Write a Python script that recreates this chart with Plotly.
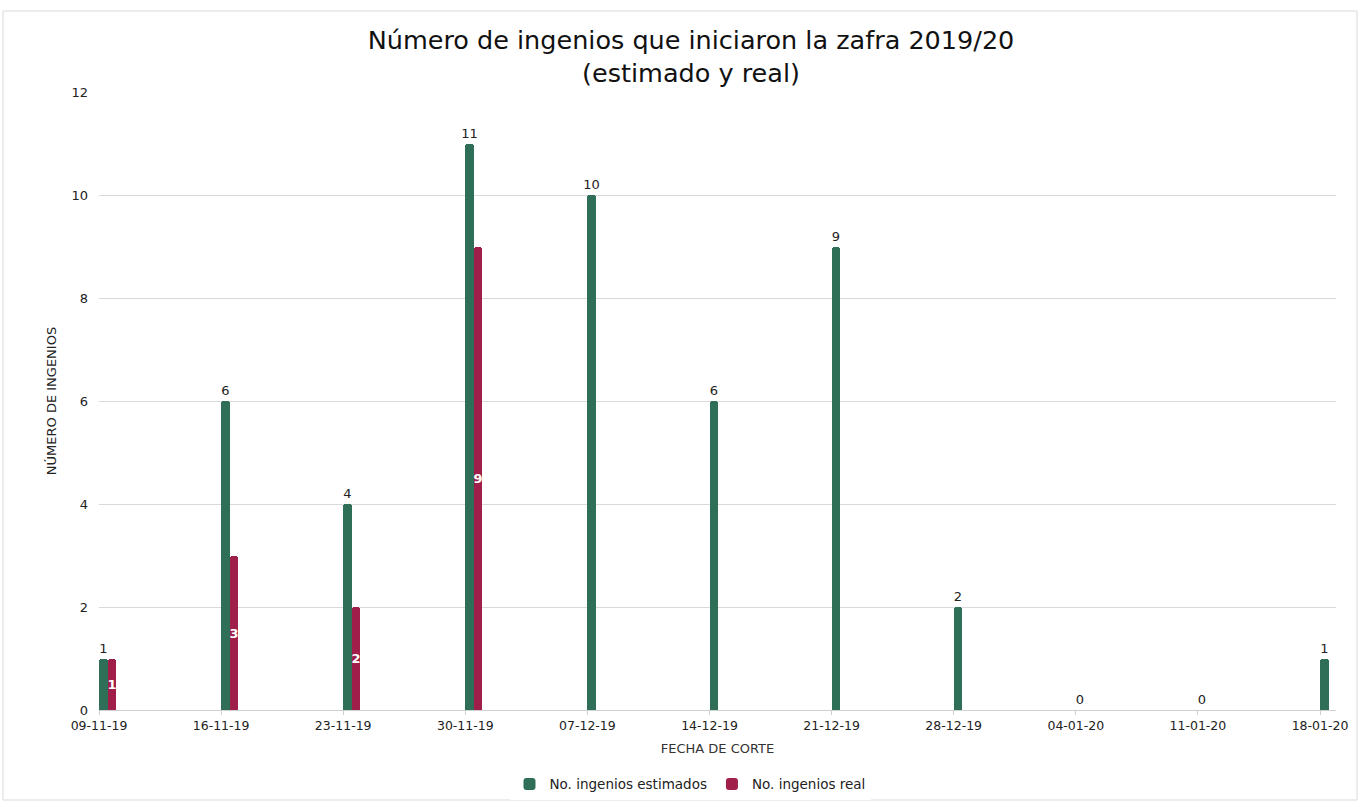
import plotly.graph_objects as go

fechas = ["09-11-19", "16-11-19", "23-11-19", "30-11-19", "07-12-19", "14-12-19",
          "21-12-19", "28-12-19", "04-01-20", "11-01-20", "18-01-20"]
estimados = [1, 6, 4, 11, 10, 6, 9, 2, 0, 0, 1]
real = [1, 3, 2, 9]

FONT = "DejaVu Sans"
GREEN = "#2F6E57"
RED = "#A01F4A"
W = 0.07

pos = list(range(len(fechas)))

fig = go.Figure()
fig.add_trace(go.Bar(
    x=pos, y=estimados, name="No. ingenios estimados",
    marker=dict(color=GREEN, cornerradius=3, line=dict(width=0)),
    width=W, offset=0,
    text=[str(v) for v in estimados], textposition="outside",
    textfont=dict(family=FONT, size=13, color="#222222"),
    cliponaxis=False,
))
fig.add_trace(go.Bar(
    x=pos[:len(real)], y=real, name="No. ingenios real",
    marker=dict(color=RED, cornerradius=3, line=dict(width=0)),
    width=W, offset=W,
    text=[str(v) for v in real], textposition="inside", insidetextanchor="middle",
    textangle=0,
    textfont=dict(family=FONT, size=13, color="white", weight="bold"),
    cliponaxis=False,
))

L, R, T, B = 99, 1336, 92, 710
Wd, Ht = 1360, 801
pw, ph = R - L, B - T

fig.update_layout(
    width=Wd, height=Ht,
    margin=dict(l=L, r=Wd - R, t=T, b=Ht - B, autoexpand=False),
    paper_bgcolor="white", plot_bgcolor="white",
    font=dict(family=FONT, color="#222222"),
    uniformtext=dict(minsize=13, mode="show"),
    title=dict(text="Número de ingenios que iniciaron la zafra 2019/20<br>(estimado y real)",
               x=691 / Wd, xanchor="center", y=0.939, yanchor="middle",
               font=dict(family=FONT, size=25.5, color="#111111")),
    barmode="overlay",
    bargap=0,
    showlegend=True,
    legend=dict(orientation="h", x=(690 - L) / pw, xanchor="center", y=-0.12, yanchor="middle",
                font=dict(family=FONT, size=13.5, color="#222222"),
                itemsizing="constant", traceorder="normal", itemwidth=30),
    xaxis=dict(
        range=[0, (R - L) / 122.1], tickmode="array", tickvals=pos, ticktext=fechas,
        tickfont=dict(family=FONT, size=12.5, color="#222222"),
        showgrid=False, showline=True, linecolor="#D0D0D0", linewidth=1,
        ticks="outside", ticklen=4, tickcolor="#D0D0D0",
        title=dict(text="FECHA DE CORTE", font=dict(family=FONT, size=13, color="#333333"), standoff=11),
        zeroline=False,
    ),
    yaxis=dict(
        range=[0, 12], dtick=2, showgrid=True, gridcolor="#D9D9D9", gridwidth=1,
        tickfont=dict(family=FONT, size=13, color="#222222"),
        zeroline=False, showline=False, ticks="", ticklabelstandoff=10,
        title=dict(text="NÚMERO DE INGENIOS", font=dict(family=FONT, size=13, color="#222222"), standoff=11),
    ),
    shapes=[dict(type="rect", xref="paper", yref="paper",
                 x0=(3 - L) / pw, x1=(1357 - L) / pw,
                 y0=(B - 800) / ph, y1=(B - 11) / ph,
                 line=dict(color="#D9D9D9", width=1), fillcolor="rgba(0,0,0,0)", layer="below")],
)

fig.write_html("out.html", config={"displayModeBar": False},
               post_script="document.body.style.margin='0';document.body.style.padding='0';")
